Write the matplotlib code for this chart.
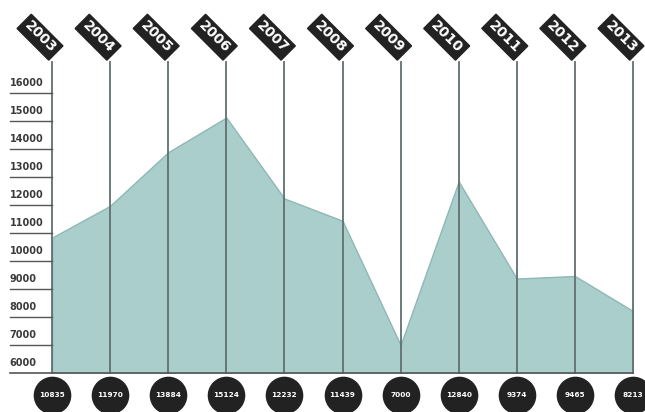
import matplotlib
matplotlib.use('Agg')
import matplotlib.pyplot as plt
from matplotlib.transforms import offset_copy

years = ['2003', '2004', '2005', '2006', '2007', '2008', '2009', '2010', '2011', '2012', '2013']
values = [10835, 11970, 13884, 15124, 12232, 11439, 7000, 12840, 9374, 9465, 8213]
y_ticks = [6000, 7000, 8000, 9000, 10000, 11000, 12000, 13000, 14000, 15000, 16000]

FILL = '#a9cecc'
EDGE = '#8fb8b6'
VLINE = '#5f6f6f'
DARK = '#222222'

fig = plt.figure(figsize=(6.45, 4.12), dpi=100)
# axes placed in figure pixels: left 52, right 633, bottom y=373, top y=65
W, H = 645, 412
ax = fig.add_axes([52 / W, (H - 373) / H, (633 - 52) / W, (373 - 65) / H])

x = list(range(len(years)))
ax.fill_between(x, 6000, values, color=FILL, edgecolor=EDGE, linewidth=1.0, zorder=1)

ax.set_xlim(0, len(years) - 1)
ax.set_ylim(6000, 17000)
ax.axis('off')

# vertical year lines, running up to the labels
for xi in x:
    ax.plot([xi, xi], [6000, 17100], color=VLINE, linewidth=1.3,
            clip_on=False, zorder=2)

# y ticks: long underline to the left with label sitting above it
ytr = ax.get_yaxis_transform()
for v in y_ticks:
    if v != 6000:
        ax.plot([-0.072, 0], [v, v], color='#555555', linewidth=1.0,
                transform=ytr, clip_on=False)
    ax.text(-0.073, v + 170, str(v), transform=ytr, ha='left', va='bottom',
            fontsize=7, fontweight='bold', color='#3a3a3a')

# bottom baseline
ax.plot([-0.072, 1.0], [6000, 6000], color='#555555', linewidth=1.2,
        transform=ytr, clip_on=False, zorder=3)

# rotated year tags at the top
for xi, yr in zip(x, years):
    ax.annotate(yr, xy=(xi, 17100), xytext=(-12, 25), textcoords='offset pixels',
                rotation=-45, rotation_mode='anchor', ha='center', va='center',
                fontsize=10, fontweight='bold', color='white',
                bbox=dict(boxstyle='square,pad=0.22', fc=DARK, ec=DARK),
                annotation_clip=False, zorder=5)

# value bubbles below the baseline
below = offset_copy(ax.transData, fig=fig, x=0, y=-22, units='dots')
ax.scatter(x, [6000] * len(x), s=680, color=DARK, transform=below,
           clip_on=False, zorder=6)
for xi, v in zip(x, values):
    ax.text(xi, 6000, str(v), transform=below, ha='center', va='center',
            fontsize=5.3, fontweight='bold', color='white', zorder=7)

fig.savefig('out.png', dpi=100)
